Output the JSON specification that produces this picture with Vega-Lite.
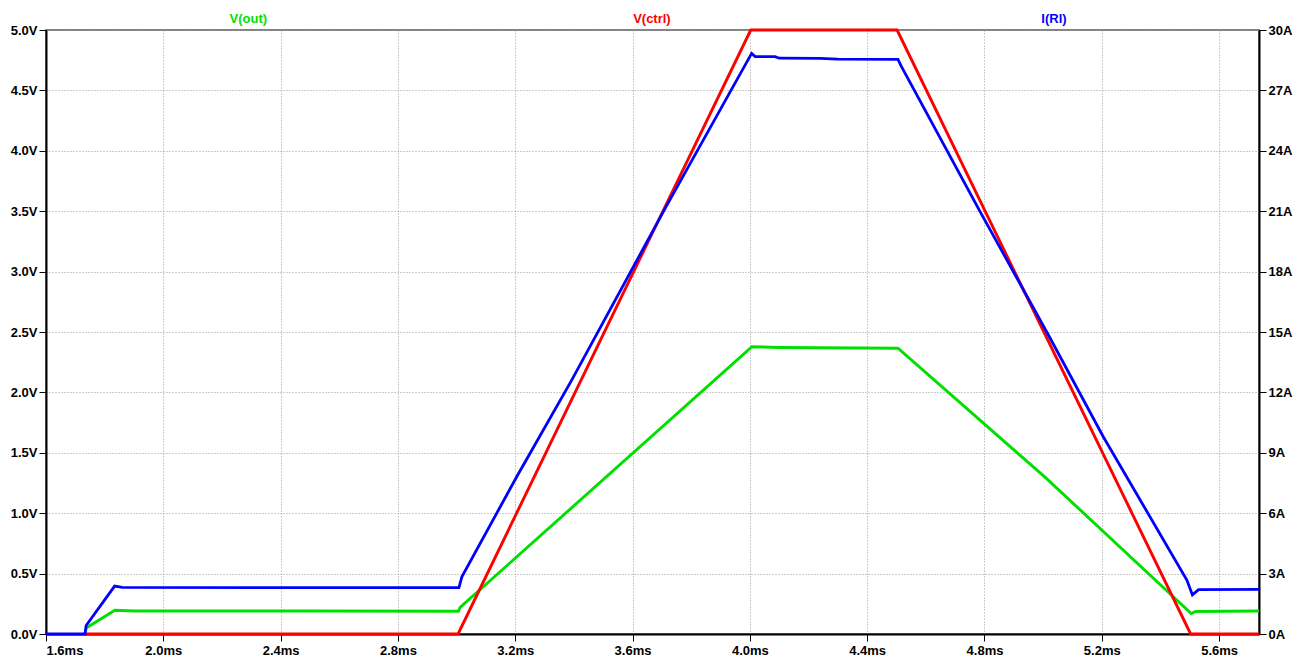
{
  "$schema": "https://vega.github.io/schema/vega-lite/v6.json",
  "autosize": "none",
  "width": 1213,
  "height": 604,
  "padding": {"left": 46, "top": 30, "right": 50, "bottom": 24},
  "background": "white",
  "config": {
    "view": {"stroke": "#808080", "strokeWidth": 2},
    "axis": {
      "labelFont": "Liberation Sans",
      "labelFontWeight": "bold",
      "labelFontSize": 13,
      "labelColor": "#000000",
      "tickColor": "#000000",
      "tickSize": 7,
      "domainColor": "#000000",
      "domainWidth": 2,
      "gridColor": "#9a9a9a",
      "gridDash": [1, 2],
      "gridWidth": 1,
      "title": null
    }
  },
  "datasets": {
    "traces": [
      {"s": "V(out)", "t": 1.733, "v": 0},
      {"s": "V(out)", "t": 1.737, "v": 0.05},
      {"s": "V(out)", "t": 1.835, "v": 0.197},
      {"s": "V(out)", "t": 1.9, "v": 0.191},
      {"s": "V(out)", "t": 2.5, "v": 0.19},
      {"s": "V(out)", "t": 3.006, "v": 0.188},
      {"s": "V(out)", "t": 3.012, "v": 0.22},
      {"s": "V(out)", "t": 4.007, "v": 2.378},
      {"s": "V(out)", "t": 4.1, "v": 2.372},
      {"s": "V(out)", "t": 4.505, "v": 2.366},
      {"s": "V(out)", "t": 5.01, "v": 1.29},
      {"s": "V(out)", "t": 5.505, "v": 0.17},
      {"s": "V(out)", "t": 5.52, "v": 0.186},
      {"s": "V(out)", "t": 5.736, "v": 0.19},
      {"s": "V(ctrl)", "t": 1.733, "v": 0},
      {"s": "V(ctrl)", "t": 3.005, "v": 0},
      {"s": "V(ctrl)", "t": 4.003, "v": 5},
      {"s": "V(ctrl)", "t": 4.502, "v": 5},
      {"s": "V(ctrl)", "t": 5.503, "v": 0},
      {"s": "V(ctrl)", "t": 5.736, "v": 0},
      {"s": "I(Rl)", "t": 1.6, "v": 0},
      {"s": "I(Rl)", "t": 1.733, "v": 0},
      {"s": "I(Rl)", "t": 1.737, "v": 0.42},
      {"s": "I(Rl)", "t": 1.834, "v": 2.38},
      {"s": "I(Rl)", "t": 1.86, "v": 2.32},
      {"s": "I(Rl)", "t": 2.4, "v": 2.3},
      {"s": "I(Rl)", "t": 3.008, "v": 2.3},
      {"s": "I(Rl)", "t": 3.018, "v": 2.84},
      {"s": "I(Rl)", "t": 3.205, "v": 7.81},
      {"s": "I(Rl)", "t": 3.393, "v": 12.62},
      {"s": "I(Rl)", "t": 3.705, "v": 20.98},
      {"s": "I(Rl)", "t": 4.006, "v": 28.84},
      {"s": "I(Rl)", "t": 4.018, "v": 28.68},
      {"s": "I(Rl)", "t": 4.086, "v": 28.68},
      {"s": "I(Rl)", "t": 4.1, "v": 28.6},
      {"s": "I(Rl)", "t": 4.239, "v": 28.59},
      {"s": "I(Rl)", "t": 4.3, "v": 28.55},
      {"s": "I(Rl)", "t": 4.505, "v": 28.54},
      {"s": "I(Rl)", "t": 4.517, "v": 28.18},
      {"s": "I(Rl)", "t": 4.785, "v": 20.98},
      {"s": "I(Rl)", "t": 5.024, "v": 14.69},
      {"s": "I(Rl)", "t": 5.205, "v": 9.8},
      {"s": "I(Rl)", "t": 5.49, "v": 2.68},
      {"s": "I(Rl)", "t": 5.509, "v": 1.94},
      {"s": "I(Rl)", "t": 5.53, "v": 2.2},
      {"s": "I(Rl)", "t": 5.736, "v": 2.22}
    ],
    "labels": [
      {"s": "V(out)", "t": 2.29},
      {"s": "V(ctrl)", "t": 3.666},
      {"s": "I(Rl)", "t": 5.037}
    ]
  },
  "layer": [
    {
      "layer": [
        {
          "data": {"name": "traces"},
          "transform": [{"filter": "datum.s !== 'I(Rl)'"}],
          "mark": {"type": "line", "strokeWidth": 2.9, "clip": false},
          "encoding": {
            "x": {
              "field": "t", "type": "quantitative",
              "scale": {"domain": [1.6, 5.736], "nice": false, "zero": false},
              "axis": {
                "values": [1.6, 2.0, 2.4, 2.8, 3.2, 3.6, 4.0, 4.4, 4.8, 5.2, 5.6],
                "labelExpr": "format(datum.value, '.1f') + 'ms'",
                "labelPadding": 3,
                "grid": true
              }
            },
            "y": {
              "field": "v", "type": "quantitative",
              "scale": {"domain": [0, 5], "nice": false},
              "axis": {
                "orient": "left",
                "values": [0, 0.5, 1, 1.5, 2, 2.5, 3, 3.5, 4, 4.5, 5],
                "labelExpr": "format(datum.value, '.1f') + 'V'",
                "labelPadding": 2,
                "grid": true
              }
            },
            "color": {
              "field": "s", "type": "nominal",
              "scale": {"domain": ["V(out)", "V(ctrl)", "I(Rl)"], "range": ["#00e000", "#ff0000", "#0000ff"]},
              "legend": null
            },
            "order": {"field": "t", "type": "quantitative"}
          }
        },
        {
          "data": {"name": "labels"},
          "mark": {"type": "text", "font": "Liberation Sans", "fontWeight": "bold", "fontSize": 13, "dy": -11, "baseline": "middle", "align": "center", "clip": false},
          "encoding": {
            "x": {"field": "t", "type": "quantitative"},
            "y": {"datum": 5},
            "text": {"field": "s"},
            "color": {"field": "s", "type": "nominal"}
          }
        }
      ]
    },
    {
      "data": {"name": "traces"},
      "transform": [{"filter": "datum.s === 'I(Rl)'"}],
      "mark": {"type": "line", "strokeWidth": 2.8, "clip": false},
      "encoding": {
        "x": {"field": "t", "type": "quantitative"},
        "y": {
          "field": "v", "type": "quantitative",
          "scale": {"domain": [0, 30], "nice": false},
          "axis": {
            "orient": "right",
            "values": [0, 3, 6, 9, 12, 15, 18, 21, 24, 27, 30],
            "labelExpr": "datum.value + 'A'",
            "labelPadding": 2,
            "grid": false
          }
        },
        "color": {"field": "s", "type": "nominal"}
      }
    }
  ],
  "resolve": {"scale": {"y": "independent"}}
}
